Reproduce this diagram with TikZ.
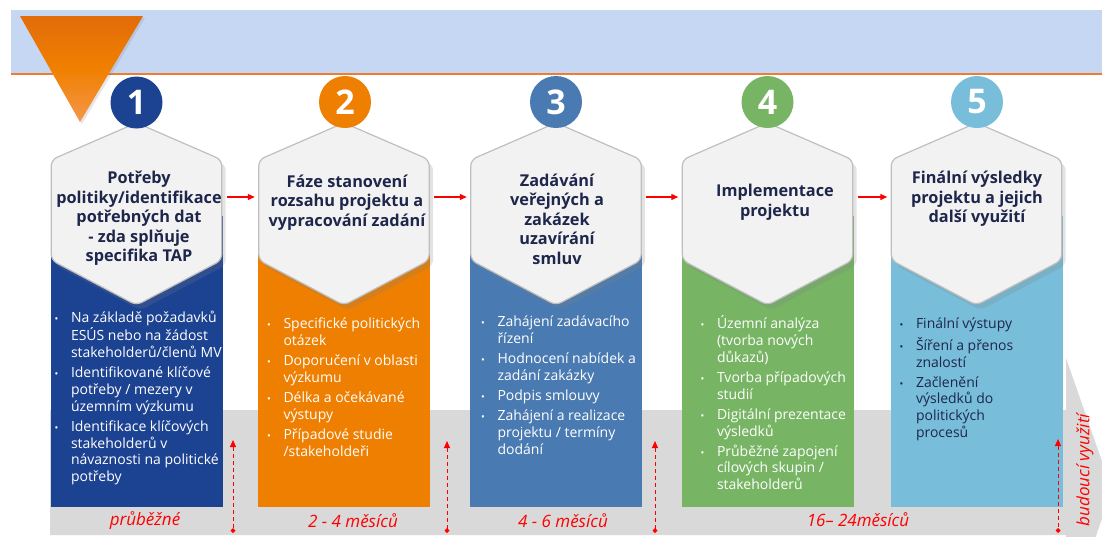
\documentclass[tikz,border=0pt]{standalone}
\usepackage{fontspec}
\setmainfont{Open Sans}
\usepackage{tikz}
\usetikzlibrary{calc}
\usetikzlibrary{shapes}
\usetikzlibrary{shadows}
\usetikzlibrary{arrows.meta}

\definecolor{bandblue}{RGB}{198,215,243}
\definecolor{lineorange}{RGB}{237,125,49}
\definecolor{stepA}{RGB}{28,66,146}
\definecolor{stepB}{RGB}{238,127,0}
\definecolor{stepC}{RGB}{73,122,178}
\definecolor{stepD}{RGB}{119,181,100}
\definecolor{stepE}{RGB}{120,190,218}
\definecolor{hexfill}{RGB}{242,242,242}
\definecolor{hexline}{RGB}{191,191,191}
\definecolor{navy}{RGB}{30,38,75}
\definecolor{bandgray}{RGB}{217,217,217}

\newcommand\bdot{{\fontsize{10}{10}\selectfont\textbullet}}
\newcommand\hexface[1]{%
  \filldraw[hexface] (#1.west) -- ([yshift=-37pt]#1.north west) -- (#1.north)
    -- ([yshift=-37pt]#1.north east) -- ([yshift=45pt]#1.south east)
    -- (#1.south) -- ([yshift=45pt]#1.south west) -- cycle;}

\begin{document}
\begin{tikzpicture}[x=1pt, y=-1pt,
  hexbox/.style={minimum width=170pt, minimum height=182pt, inner sep=0pt},
  hexface/.style={fill=hexfill, draw=hexline, line width=1.2pt, rounded corners=6pt,
    drop shadow={shadow xshift=4pt, shadow yshift=-5pt, opacity=0.22}},
  colbox/.style={minimum width=172pt, minimum height=291pt, inner sep=0pt},
  numdot/.style={circle, minimum size=52pt, inner sep=0pt, text=white,
    font=\fontsize{34}{34}\selectfont\bfseries},
  steptitle/.style={align=center, inner sep=0pt, text=navy,
    font=\fontsize{16.3}{19.5}\selectfont\bfseries},
  bullets/.style={anchor=base west, inner sep=0pt, text=white,
    font=\fontsize{14}{16.7}\selectfont},
  flow/.style={red, line width=1.2pt, -{Triangle[length=7pt,width=6pt]},
    shorten <=5pt, shorten >=4pt},
  timespan/.style={red, line width=1pt, dash pattern=on 4pt off 3pt,
    {Triangle[length=7pt,width=6pt]}-{Turned Square[length=5pt,width=5pt]}},
  durlabel/.style={inner sep=0pt, text=red, font=\fontsize{17}{17}\selectfont\itshape}]
  \useasboundingbox (0,0) rectangle (1102,536);

  % header band
  \fill[bandblue] (11,10) rectangle (1102,73);
  \draw[lineorange, line width=2pt] (11,74) -- (1102,74);
  % time axis
  \fill[bandgray] (50,410) -- (1066,410) -- (1066,358) -- (1112,490)
    -- (1066,622) -- (1066,535) -- (50,535) -- cycle;

  % columns
  \node[colbox, fill=stepA] (col1) at (136.5,361.5) {};
  \node[colbox, fill=stepB] (col2) at (344,361.5) {};
  \node[colbox, fill=stepC] (col3) at (556,361.5) {};
  \node[colbox, fill=stepD] (col4) at (767.5,361.5) {};
  \node[colbox, fill=stepE] (col5) at (976.5,361.5) {};

  \begin{scope}
    \clip (col1.north west) rectangle (col1.south east);
    \node[bullets] (list1) at ($(col1.north west)+(4,107)$) {%
      \begin{tabular}[t]{@{}p{16.5pt}@{}l@{}}
        \bdot & Na základě požadavků\\ & ESÚS nebo na žádost\\ & stakeholderů/členů MV\\[3.5pt]
        \bdot & Identifikované klíčové\\ & potřeby / mezery v\\ & územním výzkumu\\[3.5pt]
        \bdot & Identifikace klíčových\\ & stakeholderů v\\ & návaznosti na politické\\ & potřeby
      \end{tabular}};
  \end{scope}
  \node[bullets] (list2) at ($(col2.north west)+(9,113)$) {%
    \begin{tabular}[t]{@{}p{16.5pt}@{}l@{}}
      \bdot & Specifické politických\\ & otázek\\[3.5pt]
      \bdot & Doporučení v oblasti\\ & výzkumu\\[3.5pt]
      \bdot & Délka a očekávané\\ & výstupy\\[3.5pt]
      \bdot & Případové studie\\ & /stakeholdeři
    \end{tabular}};
  \node[bullets] (list3) at ($(col3.north west)+(11,111)$) {%
    \begin{tabular}[t]{@{}p{16.5pt}@{}l@{}}
      \bdot & Zahájení zadávacího\\ & řízení\\[3.5pt]
      \bdot & Hodnocení nabídek a\\ & zadání zakázky\\[3.5pt]
      \bdot & Podpis smlouvy\\[3.5pt]
      \bdot & Zahájení a realizace\\ & projektu / termíny\\ & dodání
    \end{tabular}};
  \node[bullets] (list4) at ($(col4.north west)+(19,113)$) {%
    \begin{tabular}[t]{@{}p{16.5pt}@{}l@{}}
      \bdot & Územní analýza\\ & (tvorba nových\\ & důkazů)\\[3.5pt]
      \bdot & Tvorba případových\\ & studií\\[3.5pt]
      \bdot & Digitální prezentace\\ & výsledků\\[3.5pt]
      \bdot & Průběžné zapojení\\ & cílových skupin /\\ & stakeholderů
    \end{tabular}};
  \node[bullets, text=navy] (list5) at ($(col5.north west)+(9,113)$) {%
    \begin{tabular}[t]{@{}p{16.5pt}@{}l@{}}
      \bdot & Finální výstupy\\[3.5pt]
      \bdot & Šíření a přenos\\ & znalostí\\[3.5pt]
      \bdot & Začlenění\\ & výsledků do\\ & politických\\ & procesů
    \end{tabular}};

  % hexagons
  \node[hexbox] (hex1) at (136.5,214) {};
  \node[hexbox] (hex2) at (344,214) {};
  \node[hexbox] (hex3) at (556,214) {};
  \node[hexbox] (hex4) at (767.5,214) {};
  \node[hexbox] (hex5) at (976.5,214) {};
  \hexface{hex1}
  \hexface{hex2}
  \hexface{hex3}
  \hexface{hex4}
  \hexface{hex5}

  \node[steptitle] (title1) at (139,218.5) {Potřeby\\politiky/identifikace\\potřebných dat\\- zda splňuje\\specifika TAP};
  \node[steptitle] (title2) at (347,202.5) {Fáze stanovení\\rozsahu projektu a\\vypracování zadání};
  \node[steptitle] (title3) at (557,219) {Zadávání\\veřejných a\\zakázek\\uzavírání\\smluv};
  \node[steptitle] (title4) at (775,202.5) {Implementace\\projektu};
  \node[steptitle] (title5) at (977,199) {Finální výsledky\\projektu a jejich\\další využití};

  \node[numdot, fill=stepA] (num1) at (136.5,102.5) {1};
  \node[numdot, fill=stepB] (num2) at (345,102) {2};
  \node[numdot, fill=stepC] (num3) at (556,102) {3};
  \node[numdot, fill=stepD] (num4) at (767.5,102) {4};
  \node[numdot, fill=stepE] (num5) at (977,102) {5};

  \draw[flow] ([yshift=17pt]hex1.east) -- ([yshift=17pt]hex2.west);
  \draw[flow] ([yshift=17pt]hex2.east) -- ([yshift=17pt]hex3.west);
  \draw[flow] ([yshift=17pt]hex3.east) -- ([yshift=17pt]hex4.west);
  \draw[flow] ([yshift=17pt]hex4.east) -- ([yshift=17pt]hex5.west);

  % durations
  \coordinate (s1top) at (233,440);
  \coordinate (s1bot) at (233,533);
  \coordinate (s2top) at (447,441);
  \coordinate (s2bot) at (447,533);
  \coordinate (s3top) at (655,441);
  \coordinate (s3bot) at (655,533);
  \coordinate (s4top) at (1058,439);
  \coordinate (s4bot) at (1058,533);
  \draw[timespan] (s1top) -- (s1bot);
  \draw[timespan] (s2top) -- (s2bot);
  \draw[timespan] (s3top) -- (s3bot);
  \draw[timespan] (s4top) -- (s4bot);

  \node[durlabel] (dur1) at (145,521) {průběžné};
  \node[durlabel] (dur2) at (353,521) {2 - 4 měsíců};
  \node[durlabel] (dur3) at (563,521) {4 - 6 měsíců};
  \node[durlabel] (dur4) at (858,520) {16– 24měsíců};
  \node[durlabel, rotate=90] (dur5) at (1085,470) {budoucí využití};

  % marker
  \shade[top color={rgb,255:red,226;green,108;blue,10},
    bottom color={rgb,255:red,245;green,150;blue,75},
    middle color={rgb,255:red,240;green,128;blue,0},
    drop shadow={shadow xshift=2pt, shadow yshift=-2pt, opacity=0.2}]
    (20,16) -- (143,16) -- (80,122) -- cycle;
\end{tikzpicture}
\end{document}
